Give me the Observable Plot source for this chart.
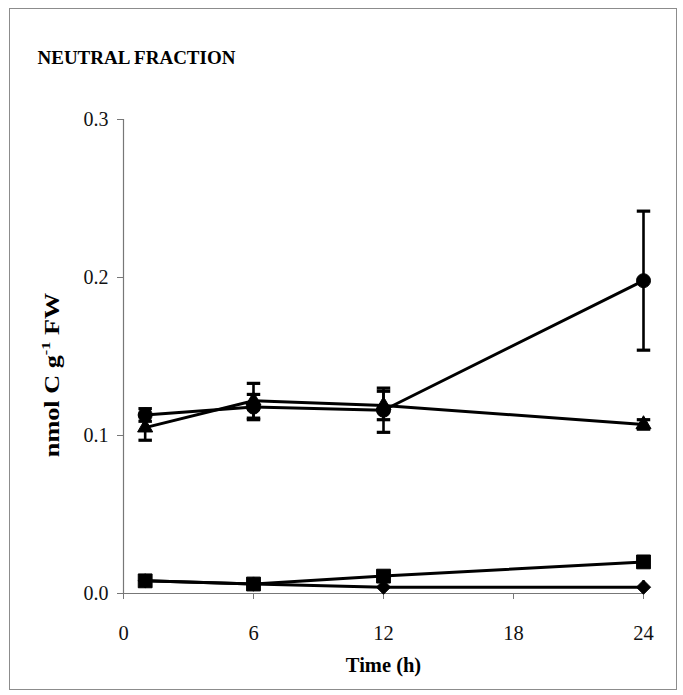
<!DOCTYPE html>
<html>
<head>
<meta charset="utf-8">
<script src="https://cdn.jsdelivr.net/npm/d3@7"></script>
<script src="https://cdn.jsdelivr.net/npm/@observablehq/plot@0.6"></script>
<style>
  body { margin: 0; background: #fff; }
  #wrap { position: relative; width: 683px; height: 695px; }
  #border { position: absolute; left: 9px; top: 8px; width: 668px; height: 682px;
            border: 1.5px solid #8c8c8c; box-sizing: border-box; pointer-events: none; }
</style>
</head>
<body>
<div id="wrap"><div id="border"></div></div>
<script>
// Sampling times (h)
const hours = [1, 6, 12, 24];

// Neutral fraction, nmol C per g fresh weight (mean and error)
const circleMean   = [0.113, 0.118, 0.116, 0.198];
const circleErr    = [0.004, 0.008, 0.014, 0.044];
const triangleMean = [0.105, 0.122, 0.119, 0.107];
const triangleErr  = [0.008, 0.011, 0.009, 0.003];
const squareMean   = [0.008, 0.006, 0.011, 0.020];
const squareErr    = [0.001, 0.002, 0.001, 0.002];
const diamondMean  = [0.008, 0.006, 0.004, 0.004];
const diamondErr   = [0.001, 0.001, 0.002, 0.004];

// Axis ticks
const xTicks = [0, 6, 12, 18, 24];
const yTicks = [0, 0.1, 0.2, 0.3];

const seriesDefs = [
  {name: "circle",   mean: circleMean,   err: circleErr,   symbol: "circle",   r: 7,   capped: true},
  {name: "triangle", mean: triangleMean, err: triangleErr, symbol: "triangle", r: 5.6, capped: true},
  {name: "square",   mean: squareMean,   err: squareErr,   symbol: "square",   r: 7.8, capped: false},
  {name: "diamond",  mean: diamondMean,  err: diamondErr,  symbol: "diamond2", r: 6.4, capped: false}
];

const rows = seriesDefs.flatMap(s => hours.map((t, i) => ({
  series: s.name, capped: s.capped, t, y: s.mean[i], lo: s.mean[i] - s.err[i], hi: s.mean[i] + s.err[i]
})));

// Horizontal cap drawn as a symbol so its width stays in pixels
const capSymbol = {
  draw(ctx, size) {
    const w = Math.sqrt(size);
    ctx.moveTo(-w / 2, 0);
    ctx.lineTo(w / 2, 0);
  }
};

const caps = rows.filter(d => d.capped)
  .flatMap(d => [{series: d.series, t: d.t, v: d.lo}, {series: d.series, t: d.t, v: d.hi}]);

const marks = [
  Plot.ruleY([0], {stroke: "#777", strokeWidth: 1.2}),
  Plot.ruleX([0], {stroke: "#777", strokeWidth: 1.2}),
  Plot.axisX({ticks: xTicks, tickSize: 6, tickPadding: 26, stroke: "#777", label: null, fontSize: 20.5, fill: "#111"}),
  Plot.axisY({ticks: yTicks, tickSize: 6, tickPadding: 9, tickFormat: d3.format(".1f"), stroke: "#777", label: null, fontSize: 20, fill: "#111"}),
  Plot.line(rows, {x: "t", y: "y", z: "series", stroke: "#000", strokeWidth: 3}),
  Plot.ruleX(rows, {x: "t", y1: "lo", y2: "hi", stroke: "#000", strokeWidth: 2.6}),
  Plot.dot(caps, {x: "t", y: "v", symbol: () => capSymbol, r: 7.6, stroke: "#000", strokeWidth: 3.2, fill: "none"})
];
for (const s of seriesDefs) {
  marks.push(Plot.dot(rows.filter(d => d.series === s.name), {
    x: "t", y: "y", symbol: s.symbol, r: s.r, fill: "#000", stroke: "#000", strokeWidth: 1
  }));
}
marks.push(
  Plot.text(["NEUTRAL FRACTION"], {frameAnchor: "top-left", dx: -86, dy: -62, textAnchor: "start",
    lineAnchor: "middle", fontWeight: "bold", fontSize: 19, fill: "#000"}),
  Plot.text(["Time (h)"], {frameAnchor: "bottom", dy: 72, fontWeight: "bold", fontSize: 20.5,
    lineAnchor: "middle", fill: "#000"})
);

const chart = Plot.plot({
  width: 683,
  height: 695,
  marginLeft: 123,
  marginRight: 40,
  marginTop: 119,
  marginBottom: 102,
  style: {fontFamily: "'Liberation Serif', 'Times New Roman', serif", fontSize: "20px", background: "transparent", color: "#000"},
  x: {domain: [0, 24]},
  y: {domain: [0, 0.3]},
  marks
});

// Rotated y-axis title with a superscript exponent
const svg = d3.select(chart);
const ylab = svg.append("text")
  .attr("transform", "translate(59,375) rotate(-90) scale(1.25,1)")
  .attr("text-anchor", "middle")
  .attr("font-weight", "bold")
  .attr("font-size", 21)
  .attr("fill", "#000");
ylab.append("tspan").text("nmol C g");
ylab.append("tspan").attr("font-size", 13).attr("dy", -9).text("-1");
ylab.append("tspan").attr("dy", 9).text(" FW");

document.getElementById("wrap").prepend(chart);
</script>
</body>
</html>
